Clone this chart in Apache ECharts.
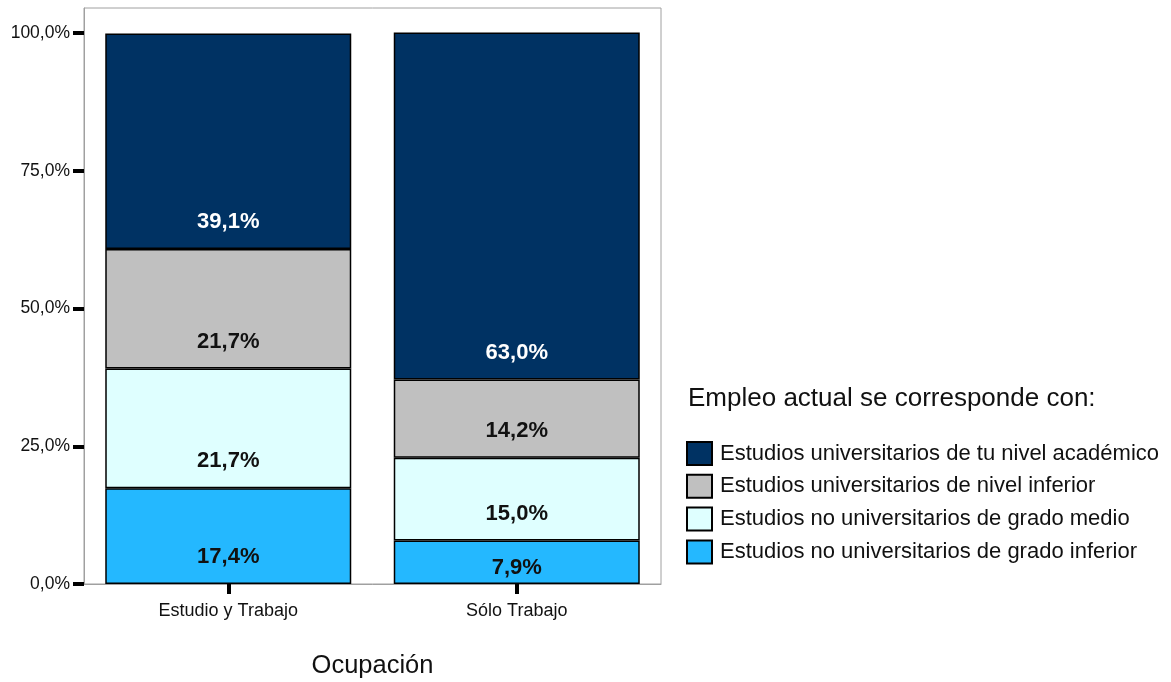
<!DOCTYPE html>
<html>
<head>
<meta charset="utf-8">
<script src="https://cdn.jsdelivr.net/npm/echarts@6/dist/echarts.min.js"></script>
<style>html,body{margin:0;padding:0;background:#fff;}#c{width:1171px;height:682px;}</style>
</head>
<body>
<div id="c"></div>
<script>
var categories = ['Estudio y Trabajo', 'Sólo Trabajo'];
var seriesNames = [
  'Estudios no universitarios de grado inferior',
  'Estudios no universitarios de grado medio',
  'Estudios universitarios de nivel inferior',
  'Estudios universitarios de tu nivel académico'
];
var gradoInferior = [17.4, 7.9];
var gradoMedio = [21.7, 15.0];
var nivelInferior = [21.7, 14.2];
var tuNivel = [39.1, 63.0];
var yTicks = [0, 25, 50, 75, 100];

var values = [gradoInferior, gradoMedio, nivelInferior, tuNivel];
var colors = ['#24b8ff', '#dfffff', '#c0c0c0', '#003263'];
var labelColors = ['#111', '#111', '#111', '#fff'];
var FONT = '"Liberation Sans", Arial, sans-serif';
function fmt(v) { return v.toFixed(1).replace('.', ',') + '%'; }

var series = values.map(function (arr, i) {
  return {
    name: seriesNames[i],
    type: 'bar',
    stack: 'total',
    barWidth: 246,
    itemStyle: { color: colors[i], borderColor: '#000', borderWidth: 1.5 },
    label: {
      show: true,
      position: 'insideBottom',
      distance: 16,
      color: labelColors[i],
      fontFamily: FONT,
      fontSize: 22,
      fontWeight: 'bold',
      formatter: function (p) { return fmt(p.value); }
    },
    data: arr.map(function (v) {
      var d = { value: v };
      if (v < 10) d.label = { distance: 5 };
      return d;
    })
  };
});

var chart = echarts.init(document.getElementById('c'), null, { renderer: 'canvas' });
chart.setOption({
  animation: false,
  backgroundColor: '#fff',
  textStyle: { fontFamily: FONT },
  title: {
    text: 'Empleo actual se corresponde con:',
    left: 683,
    top: 381,
    textStyle: { fontFamily: FONT, fontSize: 26, fontWeight: 'normal', color: '#111' }
  },
  legend: {
    orient: 'vertical',
    left: 686,
    top: 441,
    padding: 0,
    itemWidth: 25,
    itemHeight: 23,
    itemGap: 7.8,
    icon: 'rect',
    data: seriesNames.slice().reverse(),
    textStyle: { fontFamily: FONT, fontSize: 22, lineHeight: 23, color: '#111', padding: [0, 0, 0, 3] }
  },
  grid: {
    left: 84, right: 510, top: 8, bottom: 98,
    outerBoundsMode: 'none',
    containLabel: false,
    show: true, borderColor: '#a0a0a0', borderWidth: 1, backgroundColor: 'transparent'
  },
  xAxis: {
    type: 'category',
    data: categories,
    name: 'Ocupación',
    nameLocation: 'middle',
    nameGap: 69,
    nameTextStyle: { fontFamily: FONT, fontSize: 25.5, color: '#111' },
    axisLine: { show: true, lineStyle: { color: '#a0a0a0', width: 1 } },
    axisTick: { show: true, alignWithLabel: true, length: 10, lineStyle: { color: '#000', width: 4 } },
    axisLabel: { fontFamily: FONT, fontSize: 18, color: '#111', margin: 18 }
  },
  yAxis: {
    type: 'value',
    min: 0,
    max: 104.54,
    interval: 25,
    splitLine: { show: false },
    axisLine: { show: true, lineStyle: { color: '#a0a0a0', width: 1 } },
    axisTick: { show: true, length: 11, lineStyle: { color: '#000', width: 4 }, customValues: yTicks },
    axisLabel: { fontFamily: FONT, fontSize: 17.5, color: '#111', margin: 14, customValues: yTicks,
      formatter: function (v) { return fmt(v); } }
  },
  series: series
});
</script>
</body>
</html>
